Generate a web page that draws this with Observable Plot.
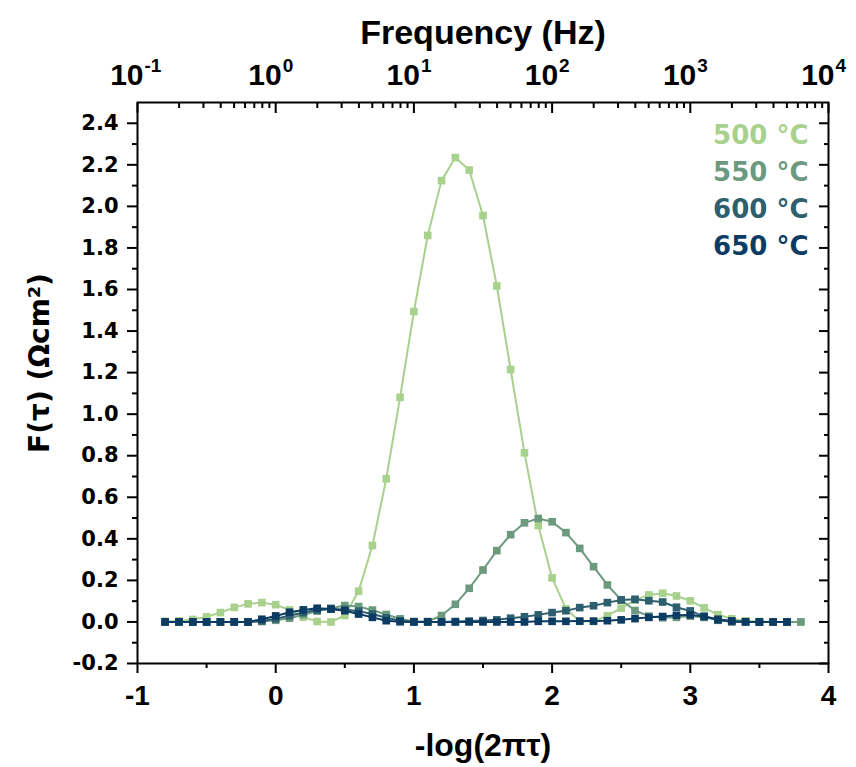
<!DOCTYPE html>
<html>
<head>
<meta charset="utf-8">
<script src="https://cdn.jsdelivr.net/npm/d3@7"></script>
<script src="https://cdn.jsdelivr.net/npm/@observablehq/plot@0.6"></script>
<style>
  body { margin: 0; background: #ffffff; }
  #chart svg { display: block; }
</style>
</head>
<body>
<div id="chart"></div>
<script>
// ---- data ----
const xs = [-0.8, -0.7, -0.6, -0.5, -0.4, -0.3, -0.2, -0.1, 0.0, 0.1, 0.2, 0.3, 0.4, 0.5, 0.6, 0.7, 0.8, 0.9,
  1.0, 1.1, 1.2, 1.3, 1.4, 1.5, 1.6, 1.7, 1.8, 1.9, 2.0, 2.1, 2.2, 2.3, 2.4, 2.5, 2.6, 2.7, 2.8, 2.9,
  3.0, 3.1, 3.2, 3.3, 3.4, 3.5, 3.6, 3.7, 3.8];

const seriesNames = ["500 °C", "550 °C", "600 °C", "650 °C"];
const seriesColors = ["#a8d18d", "#6b9a7e", "#2e5f6e", "#0c3b63"];

const f500 = [0.003, 0.005, 0.012, 0.025, 0.045, 0.070, 0.087, 0.093, 0.083, 0.058, 0.023, 0.002, 0.000, 0.031, 0.148, 0.368, 0.689, 1.081,
  1.494, 1.860, 2.124, 2.235, 2.175, 1.956, 1.617, 1.215, 0.814, 0.464, 0.212, 0.063, 0.003, 0.002, 0.030, 0.066, 0.105, 0.130, 0.138, 0.125,
  0.102, 0.068, 0.035, 0.015, 0.005, 0.002, 0.001, 0.000, 0.000];
const f550 = [0.000, 0.000, 0.000, 0.000, 0.000, 0.000, 0.000, 0.002, 0.008, 0.018, 0.035, 0.052, 0.066, 0.079, 0.074, 0.057, 0.036, 0.015,
  0.002, 0.002, 0.031, 0.085, 0.162, 0.250, 0.343, 0.420, 0.477, 0.498, 0.482, 0.430, 0.354, 0.266, 0.178, 0.106, 0.055, 0.028, 0.020, 0.022,
  0.028, 0.022, 0.010, 0.002, 0.000, 0.000, 0.000, 0.000, 0.000];
const f600 = [0.000, 0.000, 0.000, 0.000, 0.000, 0.000, 0.000, 0.005, 0.015, 0.030, 0.045, 0.057, 0.062, 0.060, 0.052, 0.038, 0.020, 0.006,
  0.001, 0.000, 0.000, 0.002, 0.004, 0.007, 0.010, 0.018, 0.025, 0.034, 0.045, 0.054, 0.069, 0.078, 0.093, 0.106, 0.109, 0.102, 0.096, 0.071,
  0.053, 0.027, 0.008, 0.001, 0.000, 0.000, 0.000, 0.000];
const f650 = [0.000, 0.000, 0.000, 0.000, 0.000, 0.000, 0.000, 0.013, 0.029, 0.047, 0.058, 0.066, 0.062, 0.054, 0.038, 0.022, 0.006, 0.001,
  0.000, 0.000, 0.000, 0.000, 0.000, 0.000, 0.000, 0.000, 0.000, 0.003, 0.003, 0.003, 0.004, 0.004, 0.006, 0.010, 0.016, 0.022, 0.026, 0.032,
  0.034, 0.026, 0.013, 0.005, 0.001, 0.000, 0.000, 0.000];

const xMajorTicks = [-1, 0, 1, 2, 3, 4];
const xMinorTicks = [-0.5, 0.5, 1.5, 2.5, 3.5];
const yMajorTicks = [-0.2, 0.0, 0.2, 0.4, 0.6, 0.8, 1.0, 1.2, 1.4, 1.6, 1.8, 2.0, 2.2, 2.4];
const yMinorTicks = [-0.1, 0.1, 0.3, 0.5, 0.7, 0.9, 1.1, 1.3, 1.5, 1.7, 1.9, 2.1, 2.3];
const freqMinor = [0.2, 0.3, 0.4, 0.5, 0.6, 0.7, 0.8, 0.9, 2, 3, 4, 5, 6, 7, 8, 9, 20, 30, 40, 50, 60, 70, 80, 90,
  200, 300, 400, 500, 600, 700, 800, 900, 2000, 3000, 4000, 5000, 6000, 7000, 8000, 9000];
const freqExponents = ["-1", "0", "1", "2", "3", "4"];

const xTitle = "-log(2πτ)";
const yTitle = "F(τ) (Ωcm²)";
const topTitle = "Frequency (Hz)";

// ---- build ----
const allSeries = [f500, f550, f600, f650].map((vals, k) =>
  vals.map((v, i) => ({x: xs[i], y: v, s: seriesNames[k]})));
const topLabels = xMajorTicks.map((x, i) => ({x, e: freqExponents[i]}));

const SANS = "Liberation Sans, Arial, Helvetica, sans-serif";
const NARROW = "Liberation Sans Narrow, Arial Narrow, Liberation Sans, Arial, sans-serif";
const WIDE = "DejaVu Sans, Verdana, sans-serif";
const SERIF = "Liberation Serif, Times New Roman, serif";

const dataMarks = [];
allSeries.forEach((rows, k) => {
  dataMarks.push(Plot.line(rows, {x: "x", y: "y", stroke: seriesColors[k], strokeWidth: 2}));
  dataMarks.push(Plot.dot(rows, {x: "x", y: "y", symbol: "square", r: 4.3, fill: seriesColors[k]}));
});

const legendMarks = seriesNames.map((n, i) => Plot.text([n], {
  frameAnchor: "top-right", textAnchor: "end", lineAnchor: "middle", dx: -20, dy: 33 + i * 37,
  fill: seriesColors[i], fontSize: 26, fontWeight: "bold", fontFamily: WIDE
}));

const common = {strokeWidth: 2, label: null};

const plot = Plot.plot({
  width: 856,
  height: 767,
  marginLeft: 137,
  marginRight: 28,
  marginTop: 102,
  marginBottom: 104,
  style: {fontFamily: SANS, fontSize: "20px", color: "black", background: "white", overflow: "visible"},
  x: {type: "linear", domain: [-1, 4]},
  y: {type: "linear", domain: [-0.2, 2.5]},
  marks: [
    // axes
    Plot.axisX(xMajorTicks, {...common, anchor: "bottom", tickSize: 10, tickPadding: 12, tickFormat: d => String(d),
      fontSize: 28, fontWeight: "bold", fontFamily: NARROW}),
    Plot.axisX(xMinorTicks, {...common, anchor: "bottom", tickSize: 5, tickFormat: () => ""}),
    Plot.axisX(xMajorTicks, {...common, anchor: "top", tickSize: -10, tickFormat: () => ""}),
    Plot.axisX(freqMinor.map(f => Math.log10(f)), {...common, anchor: "top", tickSize: -5, tickFormat: () => ""}),
    // top (frequency) tick labels: base "10" and exponent
    Plot.text(topLabels, {x: "x", text: () => "10", frameAnchor: "top", textAnchor: "end", lineAnchor: "bottom",
      dx: 6, dy: -18, fontSize: 30, fontWeight: "bold", fontFamily: SANS}),
    Plot.text(topLabels, {x: "x", text: "e", frameAnchor: "top", textAnchor: "start", lineAnchor: "bottom",
      dx: 7, dy: -31, fontSize: 19, fontWeight: "bold", fontFamily: SANS}),
    Plot.axisY(yMajorTicks, {...common, anchor: "left", tickSize: 10, tickPadding: 9, tickFormat: d => d.toFixed(1),
      fontSize: 21, fontWeight: "bold", fontFamily: WIDE}),
    Plot.axisY(yMinorTicks, {...common, anchor: "left", tickSize: 5, tickFormat: () => ""}),
    Plot.axisY(yMajorTicks, {...common, anchor: "right", tickSize: -10, tickFormat: () => ""}),
    Plot.axisY(yMinorTicks, {...common, anchor: "right", tickSize: -5, tickFormat: () => ""}),
    // titles
    Plot.text([topTitle], {frameAnchor: "top", lineAnchor: "middle", dy: -69, fontSize: 34, fontWeight: "bold", fontFamily: SANS, ariaLabel: "top-title"}),
    Plot.text([xTitle], {frameAnchor: "bottom", lineAnchor: "middle", dy: 82, fontSize: 32, fontWeight: "bold", fontFamily: SANS, ariaLabel: "x-title"}),
    Plot.text([yTitle], {frameAnchor: "left", textAnchor: "middle", lineAnchor: "middle", dx: -97, dy: -20, rotate: -90, fontSize: 28, fontWeight: "bold", fontFamily: WIDE, ariaLabel: "y-title"}),
    ...dataMarks,
    ...legendMarks,
    Plot.frame({stroke: "black", strokeWidth: 2})
  ]
});

document.getElementById("chart").appendChild(plot);

// ---- typographic post-processing (serif greek, superscript) ----
const svg = d3.select(plot);
function rewrite(label, build) {
  svg.selectAll(`g[aria-label="${label}"] text`).each(function () {
    const el = d3.select(this);
    this.textContent = "";
    build(el);
  });
}
rewrite("x-title", el => {
  el.append("tspan").text("-log(2");
  el.append("tspan").attr("font-family", SERIF).attr("font-weight", "normal").text("πτ");
  el.append("tspan").text(")");
});
rewrite("y-title", el => {
  el.append("tspan").text("F(");
  el.append("tspan").attr("font-family", SERIF).attr("font-weight", "normal").text("τ");
  el.append("tspan").text(") (Ωcm");
  el.append("tspan").attr("baseline-shift", "11px").attr("font-size", "17px").text("2");
  el.append("tspan").text(")");
});

// fit the rotated y title to its place in the reference (length ~225 px, centred at 40, 362)
(function fitYTitle() {
  const node = svg.select('g[aria-label="y-title"] text').node();
  if (!node) return;
  const base = plot.getBoundingClientRect();
  let bb = node.getBoundingClientRect();
  if (bb.height > 0) {
    const fs = 28 * 225 / bb.height;
    node.setAttribute("font-size", fs.toFixed(2) + "px");
  }
  bb = node.getBoundingClientRect();
  const cx = bb.left + bb.width / 2 - base.left;
  const cy = bb.top + bb.height / 2 - base.top;
  const old = node.getAttribute("transform") || "";
  node.setAttribute("transform", `translate(${(40 - cx).toFixed(2)},${(362 - cy).toFixed(2)}) ${old}`);
})();
</script>
</body>
</html>
